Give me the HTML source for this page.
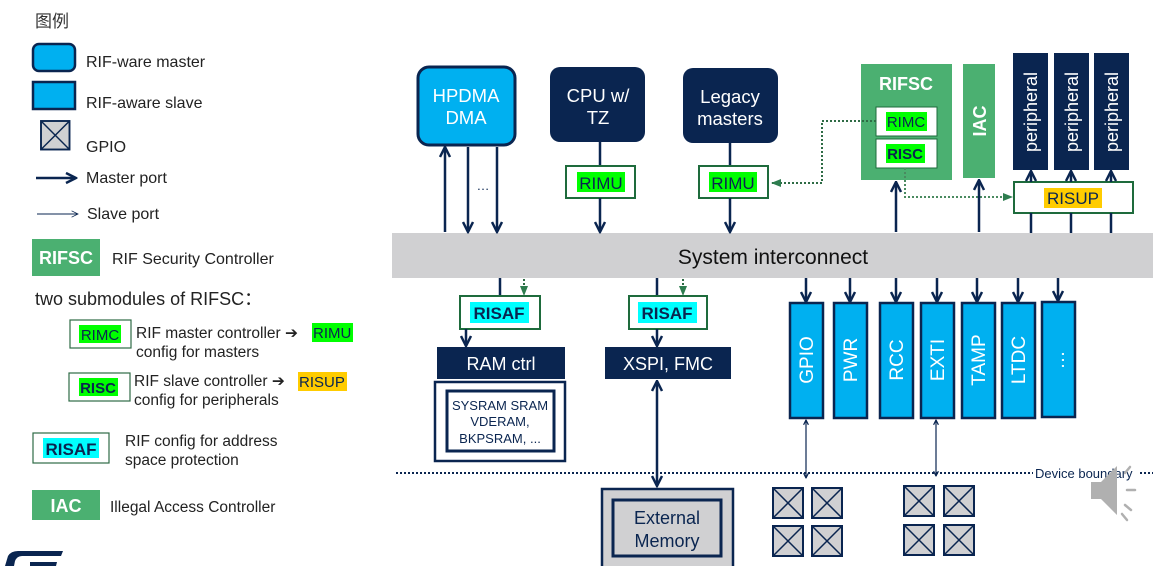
<!DOCTYPE html>
<html><head><meta charset="utf-8"><style>
html,body{margin:0;padding:0;background:#fff;}
svg{display:block;font-family:"Liberation Sans","Noto Sans CJK SC",sans-serif;}
</style></head><body>
<svg width="1153" height="566" viewBox="0 0 1153 566" xmlns="http://www.w3.org/2000/svg">
<defs>
<marker id="a" viewBox="0 0 10 10" refX="9" refY="5" markerWidth="5" markerHeight="5" orient="auto-start-reverse"><path d="M1,1 L9,5 L1,9" fill="none" stroke="#0a2550" stroke-width="2"/></marker>
<marker id="g" viewBox="0 0 10 10" refX="9" refY="5" markerWidth="5" markerHeight="5" orient="auto"><path d="M0,1 L10,5 L0,9 z" fill="#2e7d4f"/></marker>
<marker id="s" viewBox="0 0 10 10" refX="9" refY="5" markerWidth="8" markerHeight="8" orient="auto"><path d="M1,1 L9,5 L1,9" fill="none" stroke="#0a2550" stroke-width="1"/></marker>
<g id="gp"><rect x="0" y="0" width="30" height="30" fill="#d0d0d2" stroke="#0a2550" stroke-width="2"/><path d="M0,0 L30,30 M30,0 L0,30" stroke="#0a2550" stroke-width="1.5"/></g>
</defs>

<!-- Legend -->
<text x="35" y="27" font-size="17" fill="#333">图例</text>
<rect x="33" y="44" width="42" height="27" rx="6" fill="#00b0f0" stroke="#0a2550" stroke-width="2.5"/>
<text x="86" y="67" font-size="16" fill="#222">RIF-ware master</text>
<rect x="33" y="82" width="42" height="27" fill="#00b0f0" stroke="#0a2550" stroke-width="2.5"/>
<text x="86" y="108" font-size="16" fill="#222">RIF-aware slave</text>
<g transform="translate(41,121) scale(0.95)"><use href="#gp"/></g>
<text x="86" y="152" font-size="16" fill="#222">GPIO</text>
<line x1="36" y1="178" x2="76" y2="178" stroke="#0a2550" stroke-width="2.5" marker-end="url(#a)"/>
<text x="86" y="183" font-size="16" fill="#222">Master port</text>
<line x1="37" y1="214" x2="78" y2="214" stroke="#0a2550" stroke-width="1" marker-end="url(#s)"/>
<text x="87" y="219" font-size="16" fill="#222">Slave port</text>
<rect x="32" y="239" width="68" height="37" fill="#4bb071"/>
<text x="66" y="264" font-size="18" font-weight="bold" fill="#fff" text-anchor="middle">RIFSC</text>
<text x="112" y="264" font-size="16" fill="#222">RIF Security Controller</text>
<text x="35" y="305" font-size="18" fill="#222">two submodules of RIFSC：</text>
<rect x="70" y="320" width="61" height="28" fill="#fff" stroke="#2e6b45" stroke-width="1.2"/>
<rect x="79" y="325" width="42" height="18" fill="#00ff00"/>
<text x="100" y="340" font-size="15" fill="#0a2550" text-anchor="middle">RIMC</text>
<text x="136" y="338" font-size="15.5" fill="#222">RIF master controller ➔</text>
<rect x="312" y="323" width="41" height="19" fill="#00ff00"/>
<text x="313" y="338" font-size="15" fill="#0a2550">RIMU</text>
<text x="136" y="357" font-size="15.5" fill="#222">config for masters</text>
<rect x="69" y="373" width="61" height="28" fill="#fff" stroke="#2e6b45" stroke-width="1.2"/>
<rect x="79" y="378" width="39" height="18" fill="#00ff00"/>
<text x="98" y="393" font-size="15" font-weight="bold" fill="#0a2550" text-anchor="middle">RISC</text>
<text x="134" y="386" font-size="15.5" fill="#222">RIF slave controller ➔</text>
<rect x="298" y="372" width="49" height="19" fill="#ffcc00"/>
<text x="299" y="387" font-size="15" fill="#0a2550">RISUP</text>
<text x="134" y="405" font-size="15.5" fill="#222">config for peripherals</text>
<rect x="33" y="433" width="76" height="30" fill="#fff" stroke="#2e6b45" stroke-width="1.2"/>
<rect x="43" y="438" width="56" height="20" fill="#00ffff"/>
<text x="71" y="455" font-size="17" font-weight="bold" fill="#0a2550" text-anchor="middle">RISAF</text>
<text x="125" y="446" font-size="15.5" fill="#222">RIF config for address</text>
<text x="125" y="465" font-size="15.5" fill="#222">space protection</text>
<rect x="32" y="490" width="68" height="30" fill="#4bb071"/>
<text x="66" y="512" font-size="18" font-weight="bold" fill="#fff" text-anchor="middle">IAC</text>
<text x="110" y="512" font-size="15.5" fill="#222">Illegal Access Controller</text>
<path d="M5,566 L8,556 Q11,551 18,551 L63,551 L61,556 L22,556 Q17,556 15,561 L14,566 Z M30,562 L57,562 L56,566 L30,566Z" fill="#0a2550"/>

<!-- System interconnect -->
<rect x="392" y="233" width="761" height="45" fill="#d0d0d2"/>
<text x="773" y="264" font-size="21" fill="#111" text-anchor="middle">System interconnect</text>

<!-- HPDMA -->
<rect x="418" y="67" width="97" height="78" rx="11" fill="#00b0f0" stroke="#0a2550" stroke-width="3"/>
<text x="466" y="102" font-size="18.5" fill="#fff" text-anchor="middle">HPDMA</text>
<text x="466" y="124" font-size="18.5" fill="#fff" text-anchor="middle">DMA</text>
<line x1="445" y1="232" x2="445" y2="147" stroke="#0a2550" stroke-width="2.5" marker-end="url(#a)"/>
<line x1="468" y1="147" x2="468" y2="232" stroke="#0a2550" stroke-width="2.5" marker-end="url(#a)"/>
<line x1="497" y1="147" x2="497" y2="232" stroke="#0a2550" stroke-width="2.5" marker-end="url(#a)"/>
<text x="483" y="190" font-size="13" fill="#0a2550" text-anchor="middle">…</text>

<!-- CPU -->
<rect x="550" y="67" width="95" height="75" rx="10" fill="#0a2550"/>
<text x="598" y="102" font-size="18.5" fill="#fff" text-anchor="middle">CPU w/</text>
<text x="598" y="124" font-size="18.5" fill="#fff" text-anchor="middle">TZ</text>
<line x1="600" y1="142" x2="600" y2="166" stroke="#0a2550" stroke-width="2.5"/>
<rect x="566" y="166" width="69" height="32" fill="#fff" stroke="#1e6b3c" stroke-width="2"/>
<rect x="577" y="172" width="48" height="20" fill="#00ff00"/>
<text x="601" y="189" font-size="17" fill="#0a2550" text-anchor="middle">RIMU</text>
<line x1="600" y1="198" x2="600" y2="232" stroke="#0a2550" stroke-width="2.5" marker-end="url(#a)"/>

<!-- Legacy -->
<rect x="683" y="68" width="95" height="75" rx="10" fill="#0a2550"/>
<text x="730" y="103" font-size="18.5" fill="#fff" text-anchor="middle">Legacy</text>
<text x="730" y="125" font-size="18.5" fill="#fff" text-anchor="middle">masters</text>
<line x1="730" y1="143" x2="730" y2="166" stroke="#0a2550" stroke-width="2.5"/>
<rect x="699" y="166" width="69" height="32" fill="#fff" stroke="#1e6b3c" stroke-width="2"/>
<rect x="709" y="172" width="48" height="20" fill="#00ff00"/>
<text x="733" y="189" font-size="17" fill="#0a2550" text-anchor="middle">RIMU</text>
<line x1="730" y1="198" x2="730" y2="232" stroke="#0a2550" stroke-width="2.5" marker-end="url(#a)"/>

<!-- RIFSC -->
<rect x="861" y="64" width="91" height="116" fill="#4bb071"/>
<text x="906" y="90" font-size="18" font-weight="bold" fill="#fff" text-anchor="middle">RIFSC</text>
<rect x="876" y="107" width="61" height="29" fill="#fff" stroke="#1e6b3c" stroke-width="1"/>
<rect x="886" y="112" width="41" height="19" fill="#00ff00"/>
<text x="906" y="127" font-size="15" fill="#0a2550" text-anchor="middle">RIMC</text>
<rect x="876" y="139" width="61" height="29" fill="#fff" stroke="#1e6b3c" stroke-width="1"/>
<rect x="886" y="144" width="39" height="19" fill="#00ff00"/>
<text x="905" y="159" font-size="15" font-weight="bold" fill="#0a2550" text-anchor="middle">RISC</text>
<path d="M876,121 L822,121 L822,183 L772,183" fill="none" stroke="#2e6b45" stroke-width="2" stroke-dasharray="2,2" marker-end="url(#g)"/>
<path d="M905,168 L905,197 L1012,197" fill="none" stroke="#4a8a60" stroke-width="2" stroke-dasharray="2,2" marker-end="url(#g)"/>
<line x1="896" y1="232" x2="896" y2="182" stroke="#0a2550" stroke-width="2.5" marker-end="url(#a)"/>

<!-- IAC -->
<rect x="963" y="64" width="32" height="114" fill="#4bb071"/>
<text transform="translate(986,121) rotate(-90)" font-size="18" font-weight="bold" fill="#fff" text-anchor="middle">IAC</text>
<line x1="979" y1="232" x2="979" y2="180" stroke="#0a2550" stroke-width="2.5" marker-end="url(#a)"/>

<!-- Peripherals -->
<g fill="#0a2550"><rect x="1013" y="53" width="35" height="117"/><rect x="1054" y="53" width="35" height="117"/><rect x="1094" y="53" width="35" height="117"/></g>
<g font-size="18" fill="#fff" text-anchor="middle">
<text transform="translate(1037,112) rotate(-90)">peripheral</text>
<text transform="translate(1078,112) rotate(-90)">peripheral</text>
<text transform="translate(1118,112) rotate(-90)">peripheral</text>
</g>
<rect x="1014" y="182" width="119" height="31" fill="#fff" stroke="#1e6b3c" stroke-width="2"/>
<rect x="1044" y="188" width="58" height="20" fill="#ffcc00"/>
<text x="1073" y="204" font-size="17" fill="#0a2550" text-anchor="middle">RISUP</text>
<g stroke="#0a2550" stroke-width="2.5">
<line x1="1031" y1="233" x2="1031" y2="213"/><line x1="1071" y1="233" x2="1071" y2="213"/><line x1="1111" y1="233" x2="1111" y2="213"/>
<line x1="1031" y1="182" x2="1031" y2="171" marker-end="url(#a)"/><line x1="1071" y1="182" x2="1071" y2="171" marker-end="url(#a)"/><line x1="1111" y1="182" x2="1111" y2="171" marker-end="url(#a)"/>
</g>

<!-- RISAF 1 -->
<line x1="500" y1="278" x2="500" y2="296" stroke="#0a2550" stroke-width="2.5"/>
<line x1="524" y1="279" x2="524" y2="295" stroke="#2e6b45" stroke-width="2" stroke-dasharray="2,2" marker-end="url(#g)"/>
<rect x="460" y="296" width="80" height="33" fill="#fff" stroke="#1e6b3c" stroke-width="2"/>
<rect x="470" y="302" width="59" height="21" fill="#00ffff"/>
<text x="499" y="319" font-size="17" font-weight="bold" fill="#0a2550" text-anchor="middle">RISAF</text>
<line x1="466" y1="329" x2="466" y2="346" stroke="#0a2550" stroke-width="2.5" marker-end="url(#a)"/>
<rect x="437" y="347" width="128" height="32" fill="#0a2550"/>
<text x="501" y="370" font-size="18" fill="#fff" text-anchor="middle">RAM ctrl</text>
<rect x="435" y="382" width="130" height="79" fill="#fff" stroke="#0a2550" stroke-width="2.5"/>
<rect x="447" y="391" width="107" height="60" fill="#fff" stroke="#0a2550" stroke-width="3"/>
<g font-size="13" fill="#0a2550" text-anchor="middle">
<text x="500" y="410">SYSRAM SRAM</text><text x="500" y="426">VDERAM,</text><text x="500" y="443">BKPSRAM, ...</text></g>

<!-- RISAF 2 -->
<line x1="657" y1="278" x2="657" y2="296" stroke="#0a2550" stroke-width="2.5"/>
<line x1="683" y1="279" x2="683" y2="295" stroke="#2e6b45" stroke-width="2" stroke-dasharray="2,2" marker-end="url(#g)"/>
<rect x="629" y="296" width="78" height="33" fill="#fff" stroke="#1e6b3c" stroke-width="2"/>
<rect x="638" y="302" width="59" height="21" fill="#00ffff"/>
<text x="667" y="319" font-size="17" font-weight="bold" fill="#0a2550" text-anchor="middle">RISAF</text>
<line x1="657" y1="329" x2="657" y2="346" stroke="#0a2550" stroke-width="2.5" marker-end="url(#a)"/>
<rect x="605" y="347" width="126" height="32" fill="#0a2550"/>
<text x="668" y="370" font-size="18" fill="#fff" text-anchor="middle">XSPI, FMC</text>
<line x1="657" y1="381" x2="657" y2="486" stroke="#0a2550" stroke-width="2.5" marker-start="url(#a)" marker-end="url(#a)"/>
<rect x="602" y="489" width="131" height="80" fill="#d0d0d2" stroke="#0a2550" stroke-width="2.5"/>
<rect x="613" y="500" width="108" height="56" fill="#d0d0d2" stroke="#0a2550" stroke-width="3"/>
<text x="667" y="524" font-size="18" fill="#0a2550" text-anchor="middle">External</text>
<text x="667" y="547" font-size="18" fill="#0a2550" text-anchor="middle">Memory</text>

<!-- slave peripherals -->
<g fill="#00b0f0" stroke="#0a2550" stroke-width="2.5">
<rect x="790" y="303" width="33" height="115"/><rect x="834" y="303" width="33" height="115"/><rect x="880" y="303" width="33" height="115"/><rect x="921" y="303" width="33" height="115"/><rect x="962" y="303" width="33" height="115"/><rect x="1002" y="303" width="33" height="115"/><rect x="1042" y="302" width="33" height="115"/>
</g>
<g font-size="19" fill="#fff" text-anchor="middle">
<text transform="translate(813,360) rotate(-90)">GPIO</text>
<text transform="translate(857,360) rotate(-90)">PWR</text>
<text transform="translate(903,360) rotate(-90)">RCC</text>
<text transform="translate(944,360) rotate(-90)">EXTI</text>
<text transform="translate(985,360) rotate(-90)">TAMP</text>
<text transform="translate(1025,360) rotate(-90)">LTDC</text>
<text transform="translate(1064,360) rotate(-90)">…</text>
</g>
<g stroke="#0a2550" stroke-width="2.5">
<line x1="806" y1="278" x2="806" y2="302" marker-end="url(#a)"/><line x1="850" y1="278" x2="850" y2="302" marker-end="url(#a)"/><line x1="896" y1="278" x2="896" y2="302" marker-end="url(#a)"/><line x1="937" y1="278" x2="937" y2="302" marker-end="url(#a)"/><line x1="977" y1="278" x2="977" y2="302" marker-end="url(#a)"/><line x1="1018" y1="278" x2="1018" y2="302" marker-end="url(#a)"/><line x1="1058" y1="278" x2="1058" y2="301" marker-end="url(#a)"/>
</g>
<line x1="806" y1="420" x2="806" y2="478" stroke="#0a2550" stroke-width="1.2" marker-start="url(#a)" marker-end="url(#a)"/>
<line x1="936" y1="420" x2="936" y2="476" stroke="#0a2550" stroke-width="1.2" marker-start="url(#a)" marker-end="url(#a)"/>

<!-- device boundary -->
<line x1="396" y1="473" x2="1033" y2="473" stroke="#0a2550" stroke-width="2" stroke-dasharray="2,2"/>
<text x="1035" y="478" font-size="13" fill="#0a2550">Device boundary</text>
<line x1="1140" y1="473" x2="1153" y2="473" stroke="#0a2550" stroke-width="2" stroke-dasharray="2,2"/>

<!-- GPIO pads -->
<use href="#gp" x="773" y="488"/><use href="#gp" x="812" y="488"/><use href="#gp" x="773" y="526"/><use href="#gp" x="812" y="526"/>
<use href="#gp" x="904" y="486"/><use href="#gp" x="944" y="486"/><use href="#gp" x="904" y="525"/><use href="#gp" x="944" y="525"/>

<!-- speaker -->
<path d="M1091,482 L1101,482 L1117,466 L1117,515 L1101,499 L1091,499 Z" fill="#b0b0b0"/>
<g stroke="#b0b0b0" stroke-width="2.5" stroke-linecap="round"><line x1="1125" y1="473" x2="1130" y2="467"/><line x1="1127" y1="490" x2="1135" y2="490"/><line x1="1125" y1="505" x2="1131" y2="510"/><line x1="1122" y1="514" x2="1127" y2="520"/></g>
</svg>
</body></html>
